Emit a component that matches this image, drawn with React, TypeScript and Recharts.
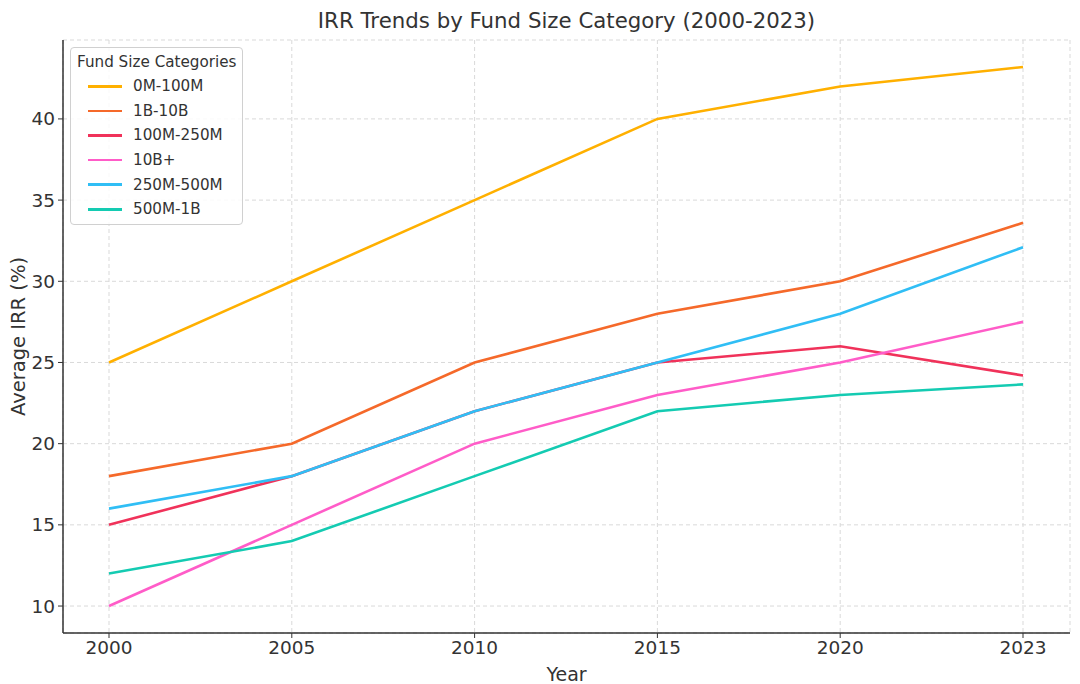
import React from "react";
import { LineChart, Line, XAxis, YAxis, CartesianGrid, Legend } from "recharts";

const years = ["2000", "2005", "2010", "2015", "2020", "2023"];
const s0M100M = [25, 30, 35, 40, 42, 43.2];
const s1B10B = [18, 20, 25, 28, 30, 33.6];
const s100M250M = [15, 18, 22, 25, 26, 24.2];
const s10Bplus = [10, 15, 20, 23, 25, 27.5];
const s250M500M = [16, 18, 22, 25, 28, 32.1];
const s500M1B = [12, 14, 18, 22, 23, 23.65];
const yTicks = [10, 15, 20, 25, 30, 35, 40];

const seriesList = [
  { key: "0M-100M", values: s0M100M, color: "#ffb000" },
  { key: "1B-10B", values: s1B10B, color: "#f5692a" },
  { key: "100M-250M", values: s100M250M, color: "#f0325a" },
  { key: "10B+", values: s10Bplus, color: "#ff5cc8" },
  { key: "250M-500M", values: s250M500M, color: "#30bef5" },
  { key: "500M-1B", values: s500M1B, color: "#14cbb2" },
];

const data = years.map((y, i) => {
  const row: Record<string, string | number> = { year: y };
  seriesList.forEach((s) => {
    row[s.key] = s.values[i];
  });
  return row;
});

const FONT = "'DejaVu Sans', sans-serif";

const LegendBox = () => (
  <div
    style={{
      background: "rgba(255,255,255,0.85)",
      border: "1px solid #d0d0d0",
      borderRadius: 4,
      padding: "3px 4px 4px 6px",
      fontFamily: FONT,
      color: "#333",
      width: 173,
      height: 178,
      boxSizing: "border-box",
      whiteSpace: "nowrap",
    }}
  >
    <div style={{ fontSize: 15.2, lineHeight: "22px", marginBottom: 1 }}>Fund Size Categories</div>
    {seriesList.map((s) => (
      <div key={s.key} style={{ display: "flex", alignItems: "center", height: 24.6 }}>
        <div style={{ width: 34, height: 2.5, background: s.color, marginLeft: 11, marginRight: 11 }} />
        <span style={{ fontSize: 15.2 }}>{s.key}</span>
      </div>
    ))}
  </div>
);

export default function App() {
  return (
    <div style={{ position: "relative", width: 1080, height: 684, background: "#fff" }}>
      <style>{`body{margin:0}`}</style>
      <div
        style={{
          position: "absolute",
          top: 8,
          left: 63,
          width: 1007,
          textAlign: "center",
          fontFamily: FONT,
          fontSize: 21.3,
          color: "#333",
        }}
      >
        IRR Trends by Fund Size Category (2000-2023)
      </div>
      <LineChart
        width={1080}
        height={684}
        data={data}
        margin={{ top: 40, right: 10, bottom: 0, left: 0 }}
      >
        <CartesianGrid stroke="#d9d9d9" strokeDasharray="4 3" />
        <XAxis
          dataKey="year"
          type="category"
          padding={{ left: 46, right: 47 }}
          height={51}
          axisLine={{ stroke: "#333", strokeWidth: 1.5 }}
          tickLine={{ stroke: "#333" }}
          tickSize={5}
          tick={{ fill: "#333", fontSize: 18.5, fontFamily: FONT }}
          tickMargin={3}
          label={{ value: "Year", position: "insideBottom", offset: 3, fill: "#333", fontSize: 19, fontFamily: FONT }}
        />
        <YAxis
          type="number"
          domain={[8.34, 44.86]}
          ticks={yTicks}
          allowDataOverflow
          width={63}
          axisLine={{ stroke: "#333", strokeWidth: 1.5 }}
          tickLine={{ stroke: "#333" }}
          tickSize={5}
          tick={{ fill: "#333", fontSize: 18.5, fontFamily: FONT }}
          tickMargin={3}
          label={{
            value: "Average IRR (%)",
            angle: -90,
            position: "insideLeft",
            offset: 0,
            dx: 18,
            fill: "#333",
            fontSize: 19.5,
            fontFamily: FONT,
            style: { textAnchor: "middle" },
          }}
        />
        <Legend
          content={<LegendBox />}
          layout="vertical"
          verticalAlign="middle"
          align="center"
          wrapperStyle={{ position: "absolute", left: 70, top: 47, width: 173, height: 178 }}
        />
        {seriesList.map((s) => (
          <Line
            key={s.key}
            dataKey={s.key}
            stroke={s.color}
            strokeWidth={2.6}
            dot={false}
            activeDot={false}
            type="linear"
            isAnimationActive={false}
          />
        ))}
      </LineChart>
    </div>
  );
}
